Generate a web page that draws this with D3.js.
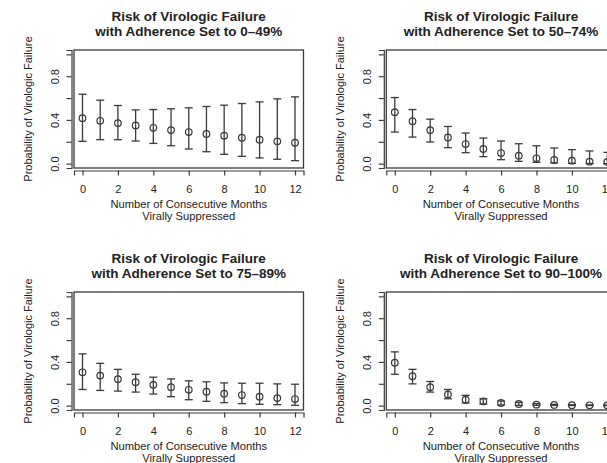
<!DOCTYPE html>
<html>
<head>
<meta charset="utf-8">
<script src="https://cdn.jsdelivr.net/npm/d3@7"></script>
<style>
  body { margin: 0; background: #fff; }
  text { font-family: "Liberation Sans", Arial, sans-serif; fill: #222; }
</style>
</head>
<body>
<svg id="grafico" width="607" height="463"></svg>
<script>
// meses de supressão viral (eixo x)
var meses = [0, 1, 2, 3, 4, 5, 6, 7, 8, 9, 10, 11, 12];
var ticksX = [0, 2, 4, 6, 8, 10, 12];
var ticksY = [0, 0.2, 0.4, 0.6, 0.8, 1.0];
var rotulosY = ["0.0", "", "0.4", "", "0.8", ""];

var faixas = ["0\u201349%", "50\u201374%", "75\u201389%", "90\u2013100%"];

// estimativa central e intervalo por faixa de adesão
var est0_49 = [0.416, 0.392, 0.371, 0.350, 0.328, 0.307, 0.289, 0.271, 0.255, 0.237, 0.219, 0.204, 0.191];
var sup0_49 = [0.635, 0.581, 0.532, 0.492, 0.495, 0.502, 0.511, 0.523, 0.535, 0.550, 0.565, 0.593, 0.611];
var inf0_49 = [0.204, 0.219, 0.219, 0.207, 0.185, 0.164, 0.134, 0.109, 0.085, 0.067, 0.052, 0.040, 0.027];

var est50_74 = [0.471, 0.389, 0.307, 0.240, 0.179, 0.134, 0.097, 0.073, 0.049, 0.033, 0.027, 0.018, 0.015];
var sup50_74 = [0.605, 0.495, 0.407, 0.340, 0.280, 0.234, 0.207, 0.182, 0.164, 0.143, 0.128, 0.116, 0.103];
var inf50_74 = [0.289, 0.243, 0.198, 0.146, 0.100, 0.064, 0.036, 0.021, 0.012, 0.006, 0.003, 0.001, 0.000];

var est75_89 = [0.305, 0.275, 0.242, 0.215, 0.190, 0.169, 0.145, 0.127, 0.109, 0.097, 0.082, 0.069, 0.060];
var sup75_89 = [0.474, 0.387, 0.332, 0.287, 0.260, 0.245, 0.227, 0.218, 0.208, 0.205, 0.205, 0.199, 0.196];
var inf75_89 = [0.148, 0.139, 0.133, 0.124, 0.106, 0.082, 0.054, 0.039, 0.027, 0.018, 0.012, 0.009, 0.003];

var est90_100 = [0.393, 0.269, 0.169, 0.103, 0.054, 0.039, 0.024, 0.015, 0.009, 0.006, 0.004, 0.003, 0.002];
var sup90_100 = [0.492, 0.332, 0.221, 0.148, 0.094, 0.063, 0.042, 0.030, 0.018, 0.012, 0.008, 0.006, 0.005];
var inf90_100 = [0.287, 0.199, 0.124, 0.063, 0.024, 0.015, 0.006, 0.003, 0.003, 0.002, 0.001, 0.001, 0.000];

var paineis = [
    { faixa: faixas[0], est: est0_49, sup: sup0_49, inf: inf0_49 },
    { faixa: faixas[1], est: est50_74, sup: sup50_74, inf: inf50_74 },
    { faixa: faixas[2], est: est75_89, sup: sup75_89, inf: inf75_89 },
    { faixa: faixas[3], est: est90_100, sup: sup90_100, inf: inf90_100 }
];

var svg = d3.select("#grafico");
var cor = "#3a3a3a";
var larg = 229.5, alt = 118;

function desenharPainel(p, i) {
    var col = i % 2, lin = Math.floor(i / 2);
    var g = svg.append("g")
        .attr("transform", "translate(" + (74 + col * 312.3) + "," + (50 + lin * 242) + ")");

    // R estende o domínio em 4%
    var x = d3.scaleLinear().domain([-0.48, 12.48]).range([0, larg]);
    var y = d3.scaleLinear().domain([-0.04, 1.04]).range([alt, 0]);

    g.append("rect")
        .attr("width", larg).attr("height", alt)
        .attr("fill", "none").attr("stroke", cor).attr("stroke-width", 1.3);

    // eixo y
    var eixoY = g.append("g").attr("transform", "translate(-2.5,0)")
        .call(d3.axisLeft(y).tickValues(ticksY).tickSize(5).tickFormat(function (d, k) { return rotulosY[k]; }));
    eixoY.select(".domain").attr("stroke", cor).attr("stroke-width", 1.2);
    eixoY.selectAll(".tick line").attr("stroke", cor).attr("stroke-width", 1.2);
    eixoY.selectAll(".tick text")
        .attr("x", 0).attr("dy", 0)
        .attr("transform", "translate(-12.5,0) rotate(-90)")
        .style("text-anchor", "middle")
        .style("font-size", "11px").attr("fill", "#222");

    // eixo x
    var eixoX = g.append("g").attr("transform", "translate(0," + (alt + 2.5) + ")")
        .call(d3.axisBottom(x).tickValues(ticksX).tickSize(5).tickFormat(d3.format("d")));
    eixoX.select(".domain").attr("stroke", cor).attr("stroke-width", 1.2);
    eixoX.selectAll(".tick line").attr("stroke", cor).attr("stroke-width", 1.2);
    eixoX.selectAll(".tick text")
        .attr("y", 22.5).attr("dy", 0)
        .style("font-size", "11px").attr("fill", "#222");

    // barras de erro
    var barras = g.selectAll("g.barra")
        .data(meses)
        .enter()
        .append("g")
        .attr("class", "barra");

    barras.append("line")
        .attr("x1", function (m) { return x(m); })
        .attr("x2", function (m) { return x(m); })
        .attr("y1", function (m, k) { return y(p.sup[k]); })
        .attr("y2", function (m, k) { return y(p.inf[k]); })
        .attr("stroke", cor).attr("stroke-width", 1.3);

    [p.sup, p.inf].forEach(function (lim) {
        barras.append("line")
            .attr("x1", function (m) { return x(m) - 4; })
            .attr("x2", function (m) { return x(m) + 4; })
            .attr("y1", function (m, k) { return y(lim[k]); })
            .attr("y2", function (m, k) { return y(lim[k]); })
            .attr("stroke", cor).attr("stroke-width", 1.3);
    });

    barras.append("circle")
        .attr("cx", function (m) { return x(m); })
        .attr("cy", function (m, k) { return y(p.est[k]); })
        .attr("r", 3.3)
        .attr("fill", "none").attr("stroke", cor).attr("stroke-width", 1.2);

    // títulos
    g.append("text")
        .attr("x", larg / 2).attr("y", -29)
        .style("text-anchor", "middle").style("font-weight", "bold").style("font-size", "13.5px")
        .text("Risk of Virologic Failure");
    g.append("text")
        .attr("x", larg / 2).attr("y", -14)
        .style("text-anchor", "middle").style("font-weight", "bold").style("font-size", "13.5px")
        .text("with Adherence Set to " + p.faixa);

    g.append("text")
        .attr("x", larg / 2).attr("y", alt + 39.5)
        .style("text-anchor", "middle").style("font-size", "11.2px")
        .text("Number of Consecutive Months");
    g.append("text")
        .attr("x", larg / 2).attr("y", alt + 52)
        .style("text-anchor", "middle").style("font-size", "11.2px")
        .text("Virally Suppressed");

    g.append("text")
        .attr("transform", "translate(-42.5," + (alt / 2) + ") rotate(-90)")
        .style("text-anchor", "middle").style("font-size", "11px")
        .text("Probability of Virologic Failure");
}

paineis.forEach(desenharPainel);
</script>
</body>
</html>
